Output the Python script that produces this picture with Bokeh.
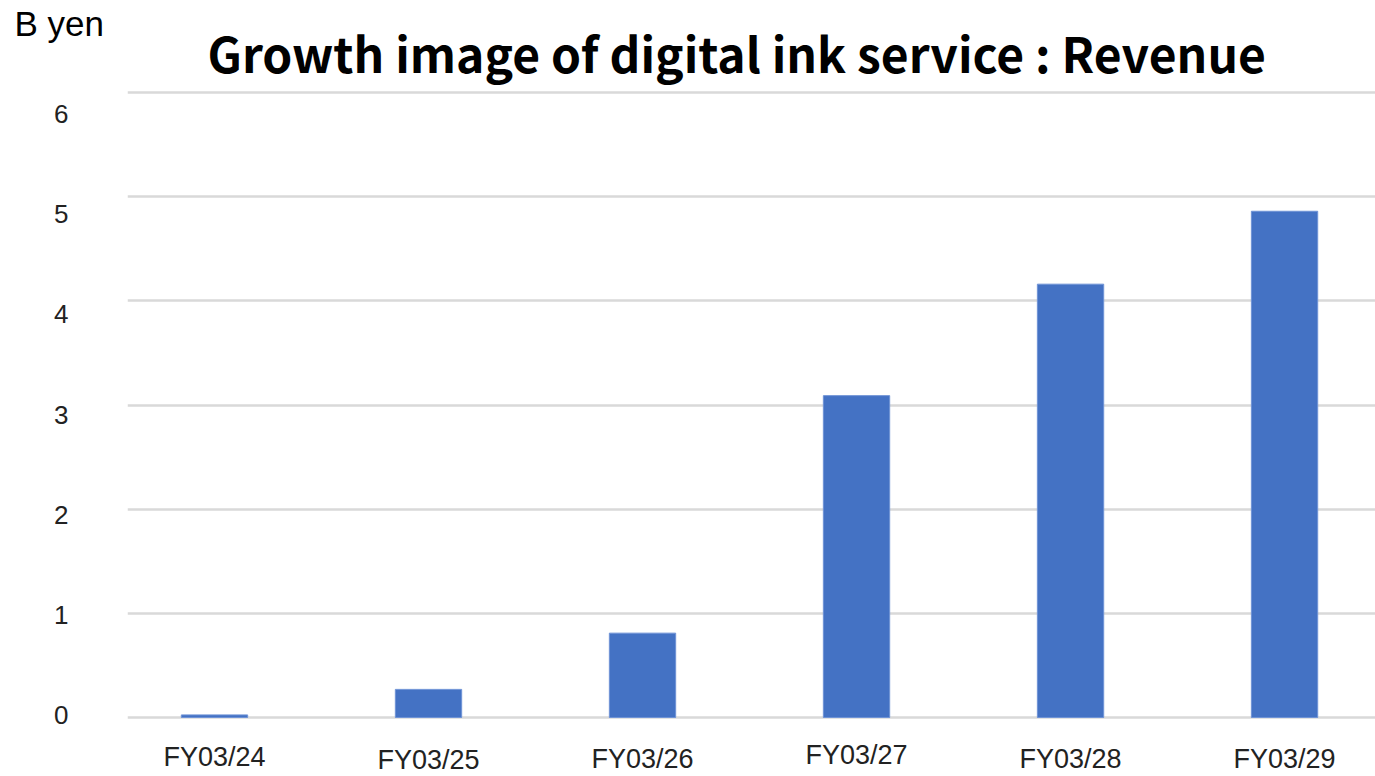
from bokeh.plotting import figure
from bokeh.models import ColumnDataSource, FixedTicker, Range1d, LinearAxis, Title
from bokeh.core.properties import value
from bokeh.embed import file_html
from bokeh.resources import INLINE

categories = ["FY03/24", "FY03/25", "FY03/26", "FY03/27", "FY03/28", "FY03/29"]
revenue = [0.025, 0.27, 0.81, 3.09, 4.16, 4.86]
y_ticks = [0, 1, 2, 3, 4, 5, 6]
title_text = "Growth image of digital ink service : Revenue"
unit_text = "B yen"

# label placement (pixels below the zero line), as laid out in the original slide
label_drop = [39, 42, 41, 37, 41, 41]

idx = list(range(len(categories)))
src = ColumnDataSource(dict(x=idx, top=revenue))
lab = ColumnDataSource(dict(x=idx, y=[0] * len(idx), text=categories, dy=label_drop))

p = figure(width=1375, height=776, output_backend="svg", toolbar_location=None,
           x_range=Range1d(-0.4065, 5.425), y_range=Range1d(-0.5664, 6.0192),
           x_axis_location=None, y_axis_location=None,
           min_border_left=127, min_border_right=0, min_border_top=90, min_border_bottom=0)
p.outline_line_color = None
p.background_fill_color = "white"

# outer title row: unit
p.title.text = unit_text
p.title.align = "left"
p.title.offset = -113
p.title.standoff = -64
p.title.text_font = "Liberation Sans"
p.title.text_font_style = "normal"
p.title.text_font_size = "35px"
p.title.text_color = "#000000"

# inner title row: chart title
main_title = Title(text=title_text, align="left", offset=80, standoff=8,
                   text_font="Noto Sans CJK JP", text_font_style="bold",
                   text_font_size="48px", text_color="#000000")
p.add_layout(main_title, "above")

# tick-label scale of the original slide (labels are spaced slightly tighter than the grid)
p.extra_y_ranges = {"lbl": Range1d(-0.6085, 6.2344)}

p.vbar(x="x", top="top", width=0.31, source=src, fill_color="#4472C4",
       line_color="#6F93D6", line_width=1)

p.xgrid.grid_line_color = None
p.ygrid.grid_line_color = "#D9D9D9"
p.ygrid.grid_line_width = 2.5
p.ygrid.ticker = FixedTicker(ticks=y_ticks)

yax = LinearAxis(y_range_name="lbl", ticker=FixedTicker(ticks=y_ticks))
yax.axis_line_color = None
yax.major_tick_line_color = None
yax.minor_tick_line_color = None
yax.major_label_standoff = 53
yax.major_label_text_font = "Liberation Sans"
yax.major_label_text_font_size = "26px"
yax.major_label_text_color = "#222222"
p.add_layout(yax, "left")

p.text(x="x", y="y", text="text", y_offset="dy", source=lab,
       text_align="center", text_baseline="middle",
       text_font=value("Liberation Sans"), text_font_size="27px", text_color="#222222")

open("out.html", "w").write(file_html(p, INLINE))
